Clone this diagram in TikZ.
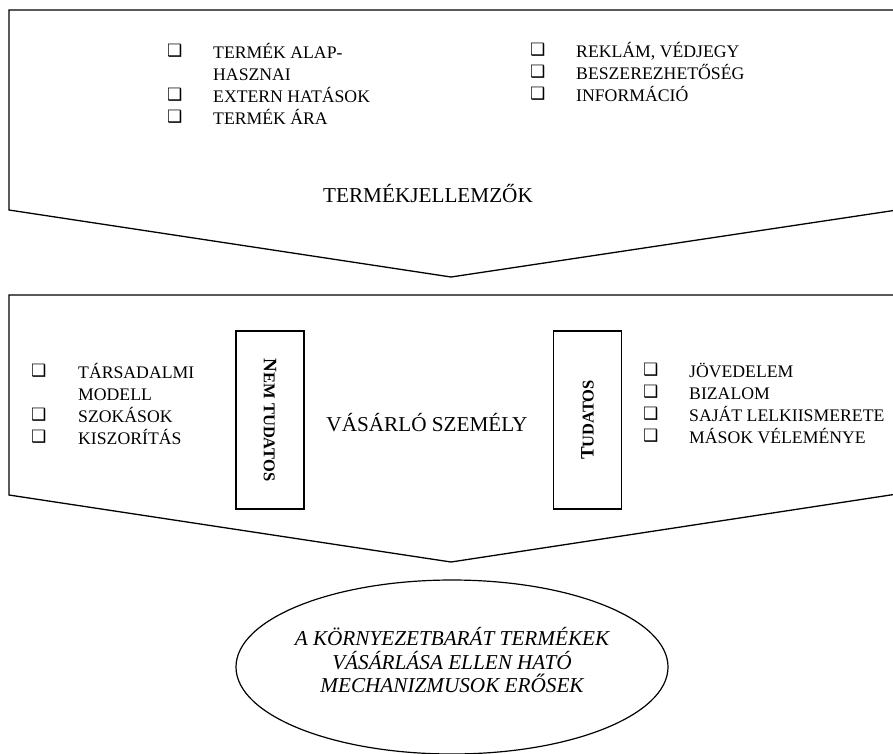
\documentclass[tikz,border=0pt]{standalone}
\usepackage{fontspec}
\setmainfont{Liberation Serif}
\newfontfamily\boxfont{DejaVu Sans}
\usetikzlibrary{positioning, shapes}
\newcommand{\chk}{\raisebox{2pt}{\boxfont\fontsize{17}{17}\selectfont ❑}}

\begin{document}
\begin{tikzpicture}[x=1pt, y=-1pt,
    title/.style={font=\fontsize{21.2}{24}\selectfont, inner sep=0pt},
    items/.style={font=\fontsize{17.7}{22}\selectfont, inner sep=0pt, anchor=base west},
    side/.style={draw, line width=1.2pt, minimum width=68pt, minimum height=178pt, inner sep=0pt, font=\bfseries}]
    \clip (0,0) rectangle (893,753);
    % felso blokk
    \draw[line width=1.3pt] (9,10) -- (897,10) -- (897,210) -- (451,277) -- (9,210) -- cycle;
    \node[items] (L1) at (167,58) {\begin{tabular}[t]{@{}p{46pt}@{}l@{}}
        \chk & TERMÉK ALAP-\\
             & HASZNAI\\
        \chk & EXTERN HATÁSOK\\
        \chk & TERMÉK ÁRA
        \end{tabular}};
    \node[items] (R1) at (530,57) {\begin{tabular}[t]{@{}p{46pt}@{}l@{}}
        \chk & REKLÁM, VÉDJEGY\\
        \chk & BESZEREZHETŐSÉG\\
        \chk & INFORMÁCIÓ
        \end{tabular}};
    \node[title] (T1) at (428,193) {TERMÉKJELLEMZŐK};
    % also blokk
    \draw[line width=1.3pt] (9,295) -- (897,295) -- (897,494) -- (451,562) -- (9,495) -- cycle;
    \node[side] (NT) at (270,420) {\rotatebox{-90}{\fontsize{19}{19}\selectfont N\fontsize{16.5}{16.5}\selectfont EM TUDATOS}};
    \node[side] (TU) at (587.5,420) {\rotatebox{90}{\fontsize{19}{19}\selectfont T\fontsize{16.5}{16.5}\selectfont UDATOS}};
    \node[title] (T2) at (427,423) {VÁSÁRLÓ SZEMÉLY};
    \node[items] (L2) at (31,378) {\begin{tabular}[t]{@{}p{47pt}@{}l@{}}
        \chk & TÁRSADALMI\\
             & MODELL\\
        \chk & SZOKÁSOK\\
        \chk & KISZORÍTÁS
        \end{tabular}};
    \node[items] (R2) at (643,377) {\begin{tabular}[t]{@{}p{46pt}@{}l@{}}
        \chk & JÖVEDELEM\\
        \chk & BIZALOM\\
        \chk & SAJÁT LELKIISMERETE\\
        \chk & MÁSOK VÉLEMÉNYE
        \end{tabular}};
    % eredmeny
    \node[draw, ellipse, line width=1.2pt, minimum width=432pt, minimum height=174pt] (E) at (452,667) {};
    \node[align=center, inner sep=0pt, font=\itshape\fontsize{21.2}{23.5}\selectfont] (ET) at ([yshift=7pt]E.center)
        {A KÖRNYEZETBARÁT TERMÉKEK\\VÁSÁRLÁSA ELLEN HATÓ\\MECHANIZMUSOK ERŐSEK};
\end{tikzpicture}
\end{document}
